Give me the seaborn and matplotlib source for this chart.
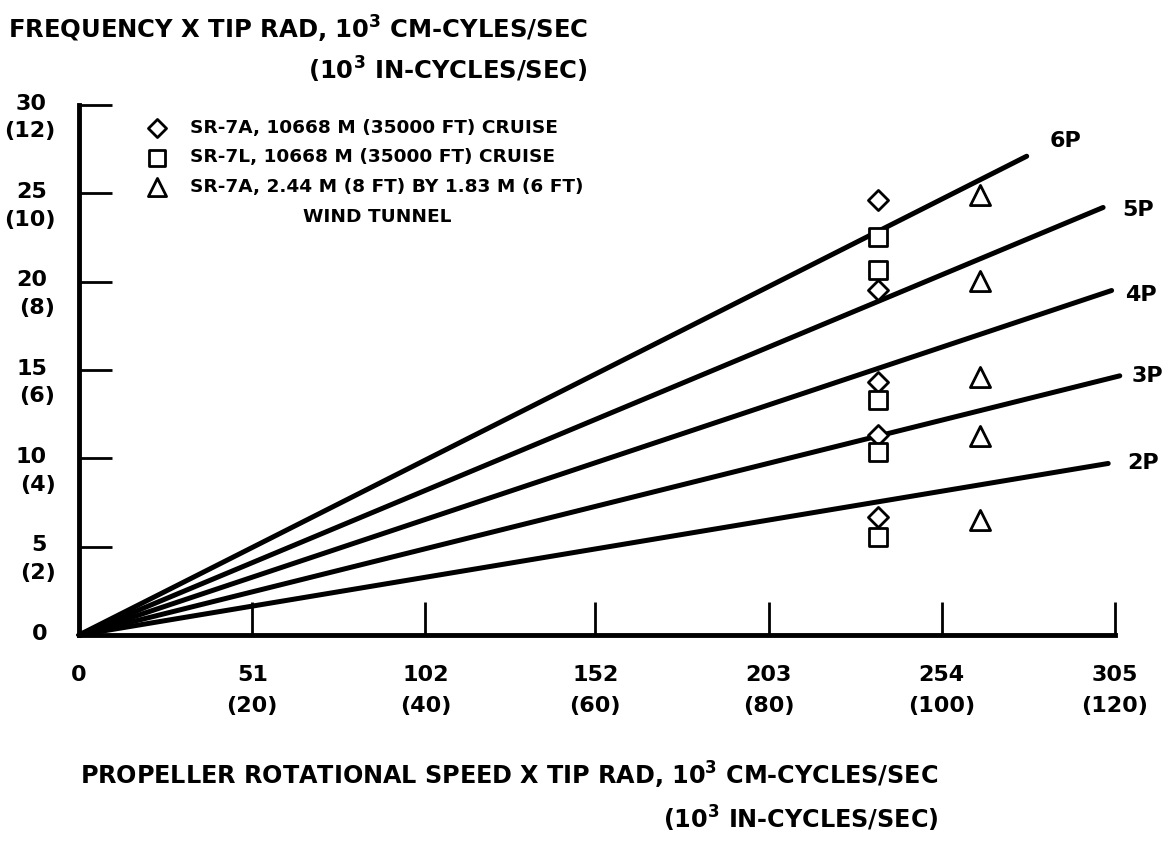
import matplotlib
matplotlib.use("Agg")
import pandas as pd
import matplotlib.pyplot as plt
import seaborn as sns

# Harmonic lines, drawn from the origin to their end point
orders = ["2P", "3P", "4P", "5P", "6P"]
line_end_x = [303.0, 306.4, 304.0, 301.5, 279.0]
line_end_y = [9.71, 14.67, 19.5, 24.2, 27.1]

# Measured blade frequencies
sr7a_x = [235.1, 235.1, 235.1, 235.1, 235.1]
sr7a_y = [24.63, 19.53, 14.34, 11.30, 6.67]
sr7l_x = [235.1, 235.1, 235.1, 235.1, 235.1]
sr7l_y = [22.51, 20.67, 13.33, 10.38, 5.53]
tunnel_x = [265.2, 265.2, 265.2, 265.2, 265.2]
tunnel_y = [24.91, 20.06, 14.63, 11.24, 6.53]

series_labels = ["SR-7A, 10668 M (35000 FT) CRUISE",
                 "SR-7L, 10668 M (35000 FT) CRUISE",
                 "SR-7A, 2.44 M (8 FT) BY 1.83 M (6 FT)"]

# Axis ticks (cm values with inch values in brackets)
x_ticks = [0, 51, 102, 152, 203, 254, 305]
x_ticks_in = ["", "(20)", "(40)", "(60)", "(80)", "(100)", "(120)"]
y_ticks = [0, 5, 10, 15, 20, 25, 30]
y_ticks_in = ["", "(2)", "(4)", "(6)", "(8)", "(10)", "(12)"]

sns.set_style("ticks")
plt.rcParams['font.family'] = ['DejaVu Sans']
plt.rcParams['font.weight'] = 'bold'
plt.rcParams.update({'text.color': 'black', 'axes.edgecolor': 'black',
                     'xtick.color': 'black', 'ytick.color': 'black'})

W, H = 1173, 860
fig = plt.figure(figsize=(W / 100, H / 100), dpi=100)
ax = fig.add_axes([79 / W, 225 / H, 1036 / W, 530 / H])

lines = pd.DataFrame({
    'order': [o for o in orders for _ in range(2)],
    'x': [v for e in line_end_x for v in (0, e)],
    'y': [v for e in line_end_y for v in (0, e)],
})
sns.lineplot(data=lines, x='x', y='y', units='order', estimator=None,
             sort=False, color='black', lw=3.6, clip_on=False,
             legend=False, ax=ax)

# line labels
label_off = {"2P": (25, 0), "3P": (20, 0), "4P": (21, -3), "5P": (25, -2), "6P": (28, 11)}
for o, ex, ey in zip(orders, line_end_x, line_end_y):
    ax.annotate(o, xy=(ex, ey), xytext=label_off[o], textcoords='offset points',
                ha='center', va='center', fontsize=16, weight='bold',
                annotation_clip=False)

mk = dict(color='white', edgecolor='black', linewidth=2, zorder=4, clip_on=False)
sns.scatterplot(x=sr7a_x, y=sr7a_y, marker='D', s=105, label=series_labels[0], ax=ax, **mk)
sns.scatterplot(x=sr7l_x, y=sr7l_y, marker='s', s=150, label=series_labels[1], ax=ax, **mk)
sns.scatterplot(x=tunnel_x, y=tunnel_y, marker='^', s=210, label=series_labels[2], ax=ax, **mk)

ax.set_xlim(0, 305)
ax.set_ylim(0, 30)
ax.set_xlabel('')
ax.set_ylabel('')
sns.despine(ax=ax)
for side in ['left', 'bottom']:
    ax.spines[side].set_linewidth(3.5)
    ax.spines[side].set_capstyle('projecting')

ax.set_xticks(x_ticks[1:])
ax.set_yticks(y_ticks[1:])
ax.tick_params(axis='x', direction='in', length=24, width=2, labelbottom=False)
ax.tick_params(axis='y', direction='in', length=24, width=2, labelleft=False)

# two-line tick labels
for v, p in zip(y_ticks, y_ticks_in):
    ax.annotate(str(v), xy=(0, v), xycoords=('axes fraction', 'data'),
                xytext=(-23, 1), textcoords='offset points',
                ha='right', va='center', fontsize=16, weight='bold')
    if p:
        ax.annotate(p, xy=(0, v), xycoords=('axes fraction', 'data'),
                    xytext=(-17, -19), textcoords='offset points',
                    ha='right', va='center', fontsize=16, weight='bold')
for v, p in zip(x_ticks, x_ticks_in):
    ax.annotate(str(v), xy=(v, 0), xycoords=('data', 'axes fraction'),
                xytext=(0, -29), textcoords='offset points',
                ha='center', va='center', fontsize=16, weight='bold')
    if p:
        ax.annotate(p, xy=(v, 0), xycoords=('data', 'axes fraction'),
                    xytext=(0, -51), textcoords='offset points',
                    ha='center', va='center', fontsize=16, weight='bold')

leg = ax.legend(loc='upper left', bbox_to_anchor=(148 / W, 1 - 119 / H),
                bbox_transform=fig.transFigure, frameon=False, fontsize=13.3,
                borderpad=0, borderaxespad=0, handlelength=1.0,
                handletextpad=1.3, labelspacing=0.62, markerscale=0.9)
for t in leg.get_texts():
    t.set_weight('bold')

fig.canvas.draw()
bb = leg.get_texts()[2].get_window_extent()
cx, cy = fig.transFigure.inverted().transform((bb.x0 + bb.width / 2 - 10, bb.y0 - 21))
fig.text(cx, cy, "WIND TUNNEL", ha='center', va='center', fontsize=13.3, weight='bold')

fig.text(8 / W, 1 - 14 / H,
         "FREQUENCY X TIP RAD, 10$^{\\mathbf{3}}$ CM-CYLES/SEC\n(10$^{\\mathbf{3}}$ IN-CYCLES/SEC)",
         ha='left', va='top', multialignment='right', fontsize=17.5, weight='bold',
         linespacing=1.4)
fig.text(80 / W, 1 - 760 / H,
         "PROPELLER ROTATIONAL SPEED X TIP RAD, 10$^{\\mathbf{3}}$ CM-CYCLES/SEC\n(10$^{\\mathbf{3}}$ IN-CYCLES/SEC)",
         ha='left', va='top', multialignment='right', fontsize=17.2, weight='bold',
         linespacing=1.5)

fig.savefig('out.png', dpi=100)
